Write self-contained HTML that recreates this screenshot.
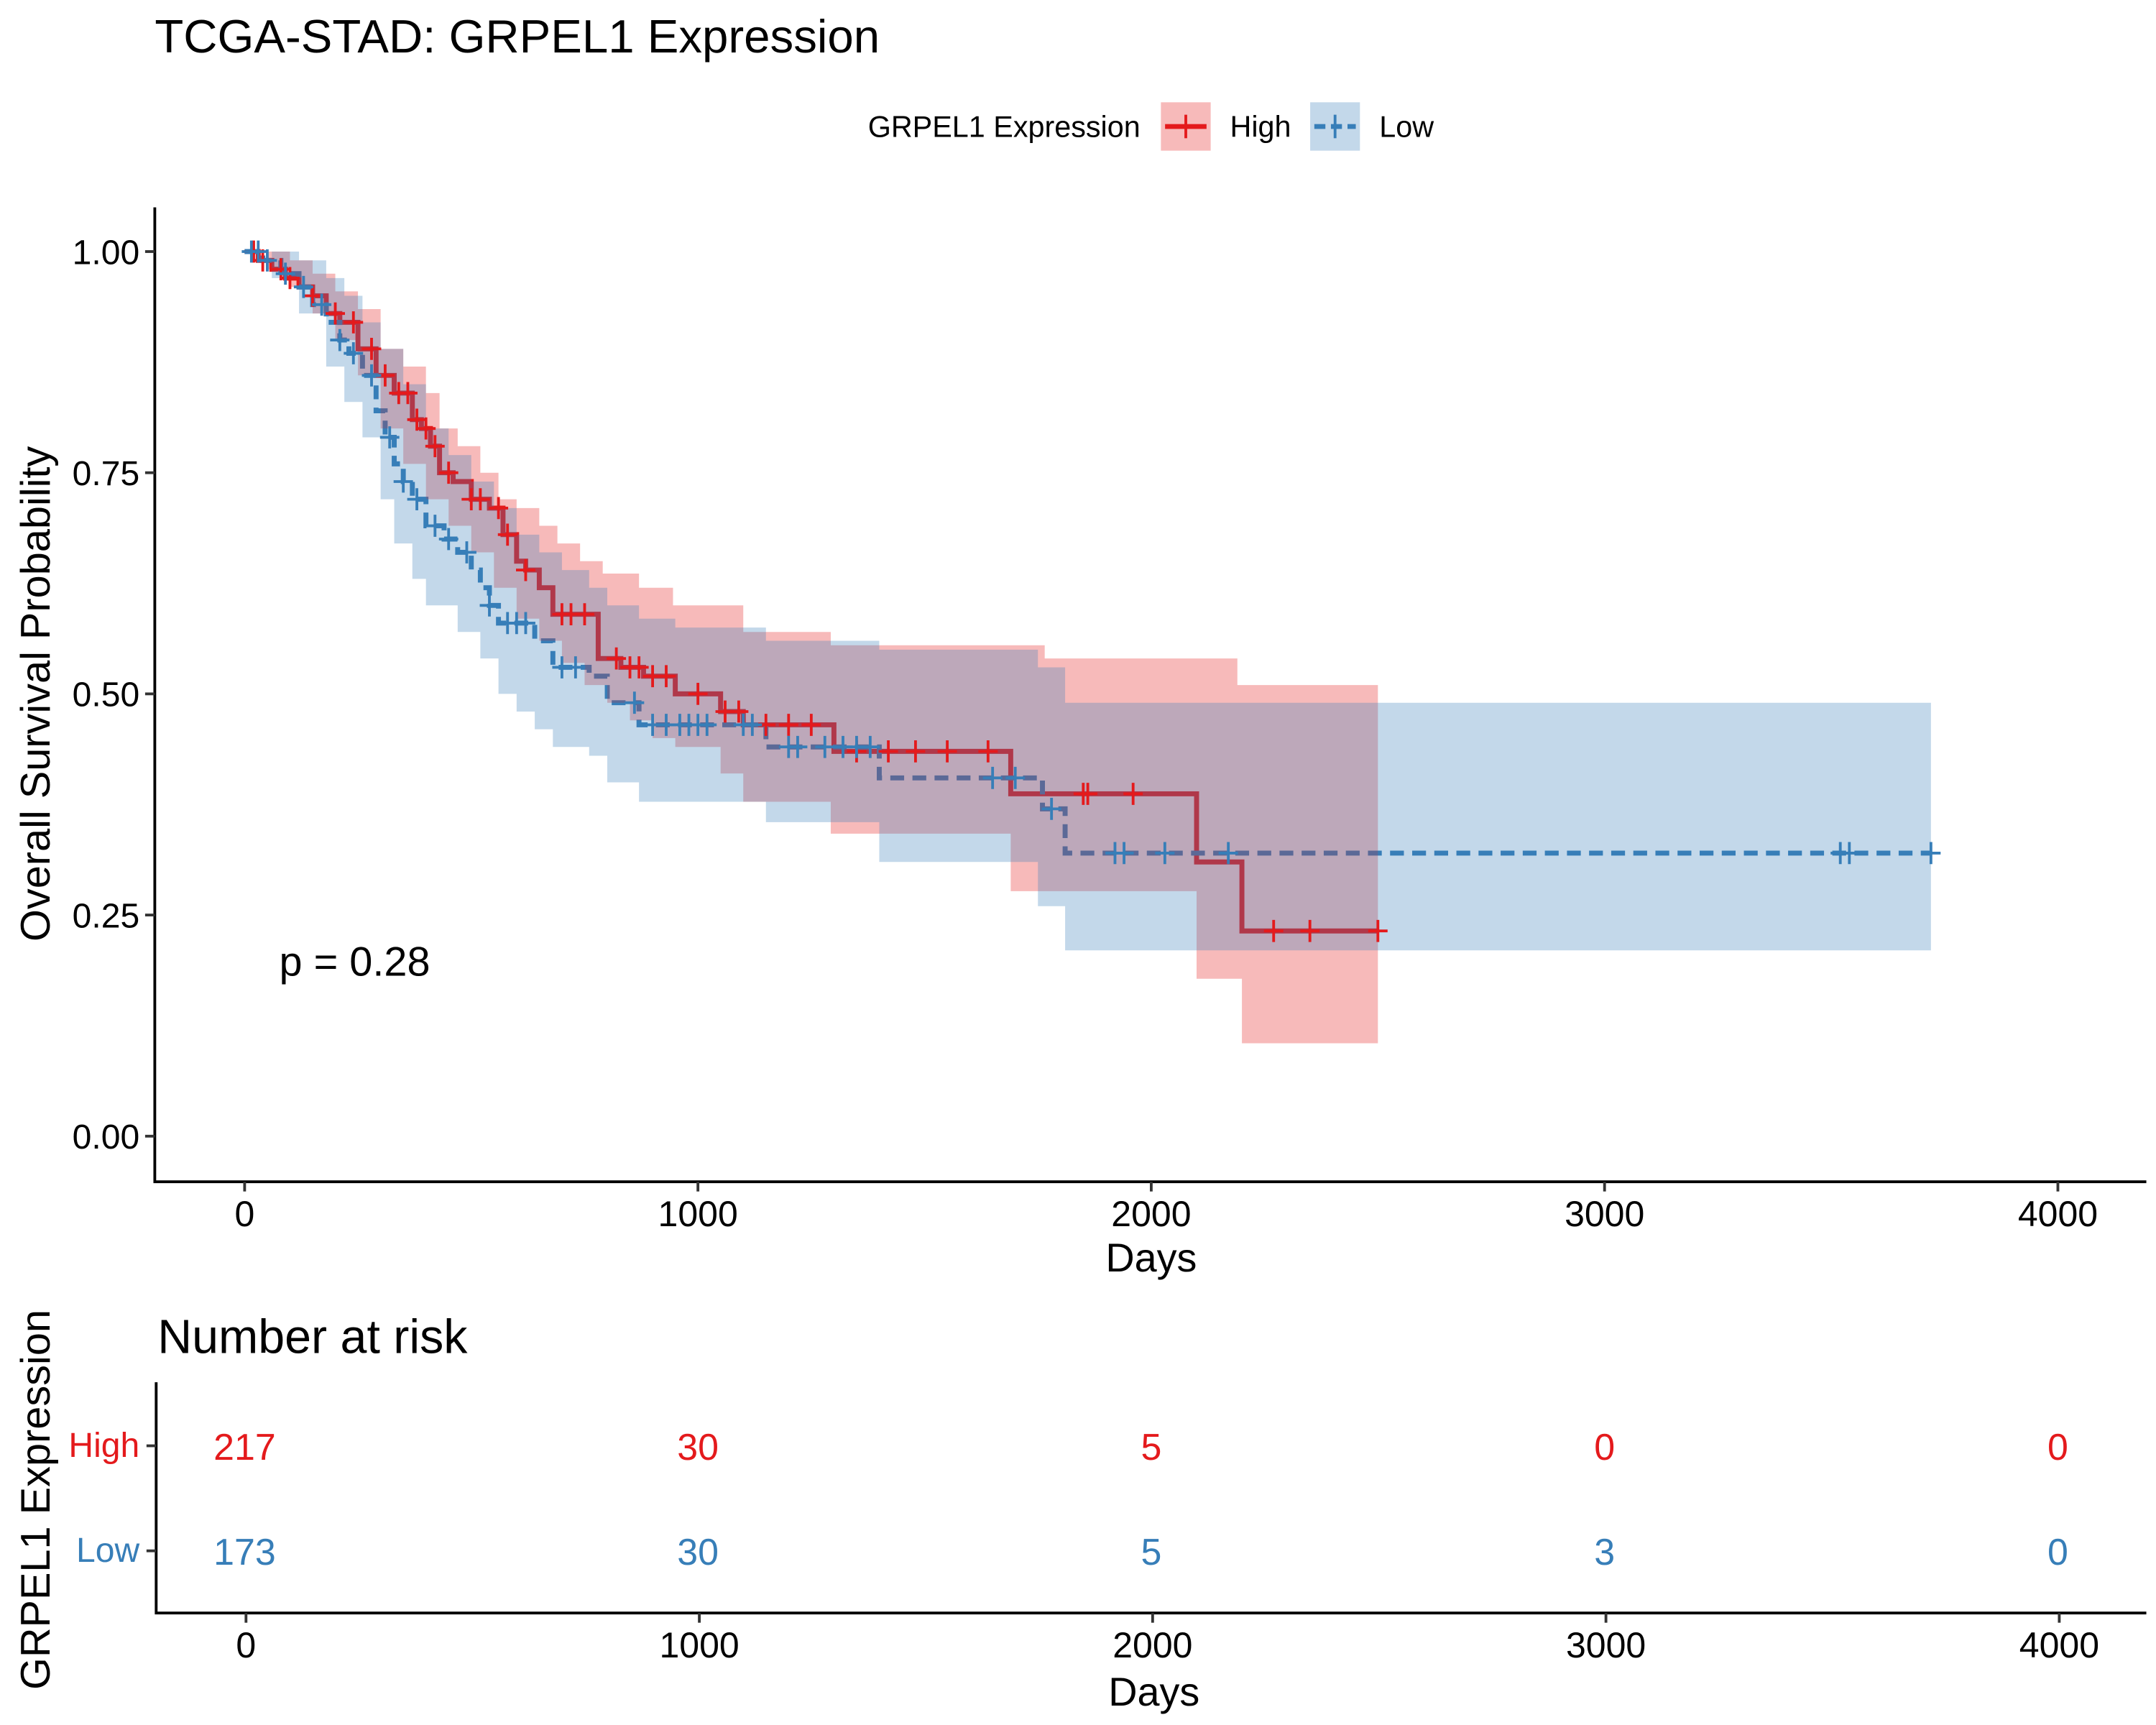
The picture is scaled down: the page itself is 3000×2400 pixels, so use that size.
<!DOCTYPE html>
<html><head><meta charset="utf-8"><style>
html,body{margin:0;padding:0;background:#fff;}
svg{display:block;font-family:"Liberation Sans",sans-serif;}
</style></head><body>
<svg id="chart" width="3000" height="2400" viewBox="0 0 1560 1248" xmlns="http://www.w3.org/2000/svg">
<text x="112" y="38" font-size="34" fill="#000">TCGA-STAD: GRPEL1 Expression</text>
<g>
<text x="628" y="99" font-size="21.5" fill="#000">GRPEL1 Expression</text>
<g>
<rect x="840" y="74" width="36" height="35" fill="rgba(228,26,28,0.3)"/>
<line x1="843" y1="91.5" x2="873" y2="91.5" stroke="#E41A1C" stroke-width="3.5"/>
<line x1="858" y1="83" x2="858" y2="100" stroke="#E41A1C" stroke-width="2"/>
<text x="890" y="99" font-size="21.5">High</text></g>
<g>
<rect x="948" y="74" width="36" height="35" fill="rgba(55,126,184,0.3)"/>
<line x1="951" y1="91.5" x2="981" y2="91.5" stroke="#377EB8" stroke-width="3.5" stroke-dasharray="8,4"/>
<line x1="966" y1="83" x2="966" y2="100" stroke="#377EB8" stroke-width="2"/>
<text x="998" y="99" font-size="21.5">Low</text></g>
</g>
<g id="plot"></g>
<g id="axes"></g>
<text x="202" y="706" font-size="30">p = 0.28</text>
<text x="833" y="920" font-size="29" text-anchor="middle">Days</text>
<text transform="translate(36,502) rotate(-90)" font-size="30" text-anchor="middle">Overall Survival Probability</text>
<text x="114" y="979" font-size="34.5">Number at risk</text>
<g id="risk"></g>
<text x="835" y="1234" font-size="29" text-anchor="middle">Days</text>
<text transform="translate(36,1085) rotate(-90)" font-size="30" text-anchor="middle">GRPEL1 Expression</text>
</svg>
<script>
const highTimes=[0,30,60,90,120,150,180,210,250,290,330,370,390,410,430,460,500,540,570,600,620,650,680,780,830,880,950,1050,1100,1300,1690,2100,2200];
const highSurv=[1,0.99,0.98,0.97,0.96,0.95,0.93,0.92,0.89,0.86,0.84,0.81,0.80,0.78,0.75,0.74,0.72,0.71,0.68,0.65,0.64,0.62,0.59,0.54,0.53,0.52,0.50,0.48,0.465,0.435,0.387,0.31,0.232];
const highEnd=2500;
const lowTimes=[0,40,80,120,150,180,210,230,260,290,310,330,350,370,400,440,470,500,520,540,560,640,680,760,800,870,1150,1400,1760,1810];
const lowSurv=[1,0.99,0.975,0.96,0.94,0.92,0.90,0.885,0.86,0.82,0.79,0.76,0.74,0.72,0.69,0.675,0.66,0.64,0.62,0.60,0.58,0.56,0.53,0.52,0.49,0.465,0.44,0.405,0.37,0.32];
const lowEnd=3720;
const highUpT=[0,50,100,150,200,250,300,350,400,430,470,520,560,600,650,690,740,790,870,945,1100,1293,1765,2190];
const highUpS=[1,1,0.99,0.975,0.955,0.935,0.89,0.87,0.84,0.80,0.78,0.75,0.72,0.71,0.69,0.67,0.65,0.636,0.62,0.60,0.57,0.555,0.54,0.51];
const highLoT=[0,50,100,150,200,250,300,350,400,450,500,550,600,650,700,750,800,850,900,950,1050,1100,1293,1690,2100,2200];
const highLoS=[1,0.98,0.96,0.93,0.90,0.86,0.80,0.76,0.72,0.69,0.66,0.62,0.585,0.56,0.535,0.51,0.49,0.47,0.45,0.44,0.41,0.378,0.342,0.277,0.178,0.105];
const lowUpT=[0,60,120,180,220,260,300,350,400,450,500,550,600,650,700,760,800,870,950,1150,1400,1750,1810];
const lowUpS=[1,1,0.99,0.97,0.95,0.92,0.89,0.85,0.80,0.77,0.74,0.71,0.68,0.66,0.64,0.62,0.60,0.585,0.575,0.56,0.55,0.53,0.49];
const lowLoT=[0,60,120,180,220,260,300,330,370,400,470,520,560,600,640,680,760,800,870,1150,1400,1750,1810];
const lowLoS=[1,0.97,0.93,0.87,0.83,0.79,0.72,0.67,0.63,0.60,0.57,0.54,0.50,0.48,0.46,0.44,0.43,0.40,0.378,0.355,0.31,0.26,0.21];
const highCensor=[20,40,80,100,150,200,240,280,310,340,360,380,400,420,450,500,520,560,580,620,700,720,750,820,850,870,900,930,1000,1060,1090,1150,1200,1250,1350,1420,1480,1550,1640,1850,1860,1960,2270,2350,2500];
const lowCensor=[15,30,50,90,130,170,210,240,280,320,350,380,420,450,490,540,580,600,620,700,730,860,900,930,960,980,1000,1020,1100,1120,1200,1220,1280,1320,1350,1380,1650,1700,1780,1920,1940,2030,2170,3520,3540,3720];
const xTicks=[0,1000,2000,3000,4000];
const yTicks=[0,0.25,0.5,0.75,1];
const yTickLabels=["0.00","0.25","0.50","0.75","1.00"];
const riskGroups=["High","Low"];
const riskHigh=[217,30,5,0,0];
const riskLow=[173,30,5,3,0];
const NS='http://www.w3.org/2000/svg';
const X=d=>177+d*0.328, Y=s=>822-s*640;
const plot=document.getElementById('plot'),axes=document.getElementById('axes'),risk=document.getElementById('risk');
function mk(tag,attrs,parent){const e=document.createElementNS(NS,tag);for(const k in attrs)e.setAttribute(k,attrs[k]);parent.appendChild(e);return e;}
function stepPath(T,S,end){let d='M'+X(T[0])+','+Y(S[0]);for(let i=1;i<T.length;i++){d+='H'+X(T[i])+'V'+Y(S[i]);}d+='H'+X(end);return d;}
function band(uT,uS,lT,lS,end){let d='M'+X(uT[0])+','+Y(uS[0]);for(let i=1;i<uT.length;i++)d+='H'+X(uT[i])+'V'+Y(uS[i]);d+='H'+X(end)+'V'+Y(lS[lS.length-1]);for(let i=lT.length-1;i>=1;i--)d+='H'+X(lT[i])+'V'+Y(lS[i-1]);d+='H'+X(lT[0])+'Z';return d;}
function sAt(T,S,t){let s=S[0];for(let i=0;i<T.length;i++)if(T[i]<=t)s=S[i];return s;}
const hl=mk('path',{d:stepPath(highTimes,highSurv,highEnd),fill:'none',stroke:'#E41A1C','stroke-width':3.6},plot);


const ll=mk('path',{d:stepPath(lowTimes,lowSurv,lowEnd),fill:'none',stroke:'#377EB8','stroke-width':3.6,'stroke-dasharray':'10,6'},plot);


const hb=mk('path',{d:band(highUpT,highUpS,highLoT,highLoS,highEnd),fill:'rgba(228,26,28,0.3)'},plot);


const lb=mk('path',{d:band(lowUpT,lowUpS,lowLoT,lowLoS,lowEnd),fill:'rgba(55,126,184,0.3)'},plot);


function censors(arr,T,S,col,name){arr.forEach(t=>{const x=X(t),y=Y(sAt(T,S,t));const g=mk('path',{d:`M${x-7},${y}H${x+7}M${x},${y-8}V${y+8}`,stroke:col,'stroke-width':2},plot);

});}
censors(highCensor,highTimes,highSurv,'#E41A1C','high-censor-mark');
censors(lowCensor,lowTimes,lowSurv,'#377EB8','low-censor-mark');
mk('path',{d:'M112,150V855H1553',fill:'none',stroke:'#000','stroke-width':2},axes);
yTicks.forEach((v,i)=>{mk('line',{x1:105,x2:112,y1:Y(v),y2:Y(v),stroke:'#333','stroke-width':2},axes);
const t=mk('text',{x:101,y:Y(v)+9,'font-size':25,'text-anchor':'end'},axes);t.textContent=yTickLabels[i];

});
xTicks.forEach(v=>{mk('line',{x1:X(v),x2:X(v),y1:855,y2:862,stroke:'#333','stroke-width':2},axes);
const t=mk('text',{x:X(v),y:887,'font-size':26,'text-anchor':'middle'},axes);t.textContent=v;

});
mk('path',{d:'M113,1000V1167H1553',fill:'none',stroke:'#000','stroke-width':2},risk);
const rowY=[1046,1122],cols=['#E41A1C','#377EB8'],rows=[riskHigh,riskLow];
riskGroups.forEach((g,i)=>{mk('line',{x1:106,x2:113,y1:rowY[i],y2:rowY[i],stroke:'#333','stroke-width':2},risk);
const t=mk('text',{x:101,y:rowY[i]+8,'font-size':25,'text-anchor':'end',fill:cols[i]},risk);t.textContent=g;


rows[i].forEach((n,j)=>{const c=mk('text',{x:X(xTicks[j]),y:rowY[i]+10,'font-size':27,'text-anchor':'middle',fill:cols[i]},risk);c.textContent=n;

});});
xTicks.forEach(v=>{const x=X(v)+1;mk('line',{x1:x,x2:x,y1:1167,y2:1174,stroke:'#333','stroke-width':2},risk);
const t=mk('text',{x:x,y:1199,'font-size':26,'text-anchor':'middle'},risk);t.textContent=v;

});
</script>
</body></html>
